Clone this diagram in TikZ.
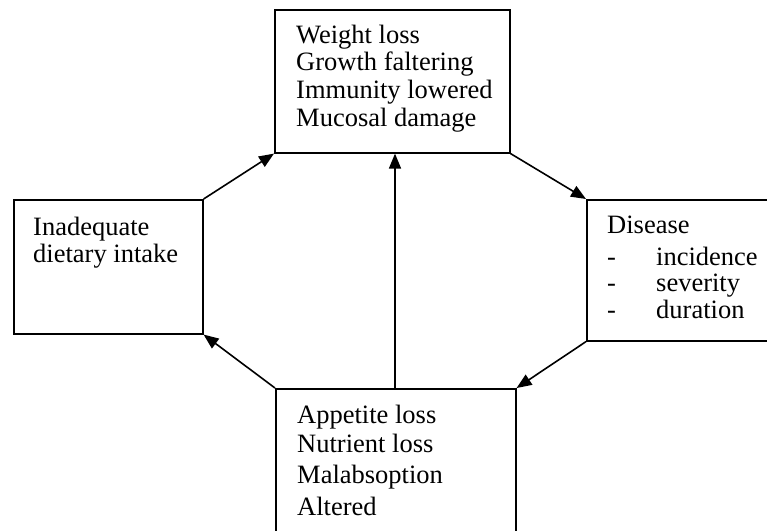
\documentclass[tikz,border=0pt]{standalone}
\usepackage{fontspec}
\setmainfont{Liberation Serif}
\usetikzlibrary{arrows.meta}
\tikzset{
  box/.style={draw, line width=1.6pt, rectangle, inner sep=0pt, anchor=north west},
  txt/.style={anchor=base west, inner sep=0pt, font=\fontsize{26.5}{28}\selectfont},
  arr/.style={line width=1.6pt, -{Triangle[length=15pt,width=12pt]}}
}
\begin{document}
\begin{tikzpicture}[x=1pt,y=-1pt]
\useasboundingbox (0,0) rectangle (767,530);
\clip (0,0) rectangle (767,530);
% boxes
\node[box, minimum width=235pt, minimum height=143pt] (top) at (274,9) {};
\node[box, minimum width=189pt, minimum height=134pt] (left) at (13,199) {};
\node[box, minimum width=200pt, minimum height=141pt] (right) at (586,199) {};
\node[box, minimum width=240pt, minimum height=160pt] (bot) at (275,388) {};
% texts
\node[txt] (t1) at (296,43) {Weight loss};
\node[txt] (t2) at (296,70) {Growth faltering};
\node[txt] (t3) at (296,98) {Immunity lowered};
\node[txt] (t4) at (296,126) {Mucosal damage};
\node[txt] (l1) at (33,235) {Inadequate};
\node[txt] (l2) at (33,262) {dietary intake};
\node[txt] (r1) at (607,233) {Disease};
\node[txt] (r2d) at (607,265) {-};
\node[txt] (r2) at (656,265) {incidence};
\node[txt] (r3d) at (607,291) {-};
\node[txt] (r3) at (656,291) {severity};
\node[txt] (r4d) at (607,318) {-};
\node[txt] (r4) at (656,318) {duration};
\node[txt] (b1) at (297,423) {Appetite loss};
\node[txt] (b2) at (297,452) {Nutrient loss};
\node[txt] (b3) at (297,483) {Malabsoption};
\node[txt] (b4) at (297,515) {Altered};
% connectors
\draw[arr] (left.north east) -- (top.south west);
\draw[arr] (top.south east) -- (right.north west);
\draw[arr] (right.south west) -- (bot.north east);
\draw[arr] (bot.north west) -- (left.south east);
\coordinate (vb) at (395,388);
\draw[arr] (vb) -- (vb |- top.south);
\end{tikzpicture}
\end{document}
